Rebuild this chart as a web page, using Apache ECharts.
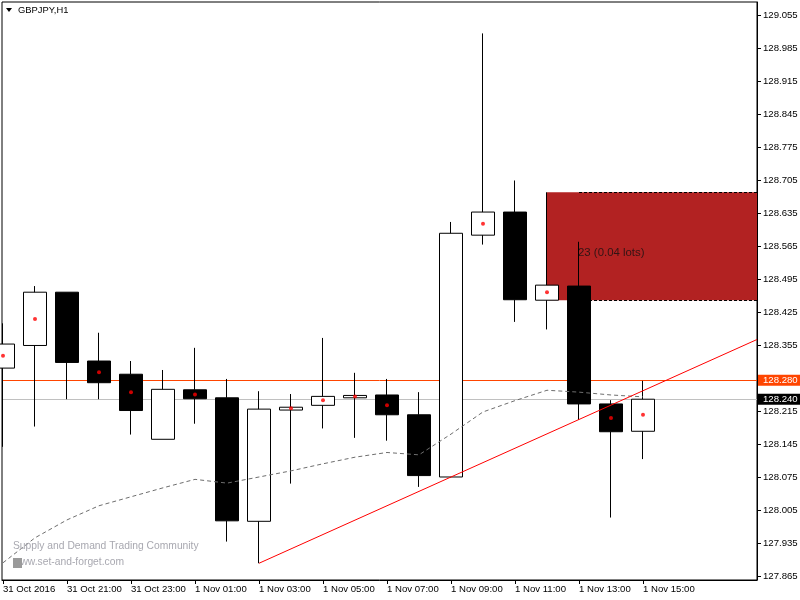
<!DOCTYPE html>
<html><head><meta charset="utf-8">
<script src="https://cdn.jsdelivr.net/npm/echarts@6/dist/echarts.min.js"></script>
<style>html,body{margin:0;padding:0;background:#fff}#chart{width:800px;height:600px}</style>
</head><body><div id="chart"></div>
<script>
// ---------- data ----------
const symbolTitle = 'GBPJPY,H1';
const barTimes = ['31 Oct 19:00','31 Oct 20:00','31 Oct 21:00','31 Oct 22:00','31 Oct 23:00','1 Nov 00:00',
  '1 Nov 01:00','1 Nov 02:00','1 Nov 03:00','1 Nov 04:00','1 Nov 05:00','1 Nov 06:00','1 Nov 07:00',
  '1 Nov 08:00','1 Nov 09:00','1 Nov 10:00','1 Nov 11:00','1 Nov 12:00','1 Nov 13:00','1 Nov 14:00','1 Nov 15:00'];
const openP  = [128.306,128.354,128.467,128.321,128.293,128.155,128.260,128.243,127.981,128.217,128.227,
  128.243,128.249,128.207,128.075,128.588,128.637,128.450,128.480,128.230,128.172];
const closeP = [128.357,128.467,128.318,128.275,128.216,128.261,128.241,127.982,128.219,128.223,128.246,
  128.248,128.207,128.078,128.592,128.637,128.451,128.482,128.230,128.171,128.240];
const lowP   = [128.139,128.182,128.240,128.240,128.165,128.155,128.188,127.938,127.892,128.061,128.178,
  128.158,128.152,128.054,128.074,128.568,128.404,128.388,128.196,127.989,128.113];
const highP  = [128.401,128.480,128.467,128.381,128.321,128.302,128.349,128.283,128.257,128.251,128.370,
  128.296,128.283,128.255,128.616,129.016,128.704,128.679,128.574,128.238,128.279];
const maValues = [127.893,127.946,127.984,128.014,128.033,128.052,128.070,128.062,128.075,128.088,128.103,
  128.117,128.127,128.122,128.166,128.213,128.237,128.259,128.255,128.249,128.245];
const dotBars   = [0,1,3,4,6,9,10,11,12,15,17,19,20];
const dotValues = [128.332,128.410,128.297,128.255,128.250,128.221,128.238,128.246,128.227,128.612,128.467,128.200,128.207];
const xTickBars   = [0,2,4,6,8,10,12,14,16,18,20];
const xTickLabels = ['31 Oct 2016','31 Oct 21:00','31 Oct 23:00','1 Nov 01:00','1 Nov 03:00','1 Nov 05:00',
  '1 Nov 07:00','1 Nov 09:00','1 Nov 11:00','1 Nov 13:00','1 Nov 15:00'];
const yTickLabels = ['129.055','128.985','128.915','128.845','128.775','128.705','128.635','128.565','128.495',
  '128.425','128.355','128.285','128.215','128.145','128.075','128.005','127.935','127.865'];
const trendBars   = [8, 18];
const trendPrices = [127.892, 128.197];
const levelPrices = [128.280, 128.240];
const levelLabels = ['128.280', '128.240'];
const zoneStartBar = 17, zoneLineStartBar = 18;
const zonePrices = [128.679, 128.450];
const noteText = '23 (0.04 lots)', noteBar = 18, notePrice = 128.551;
const watermark1 = 'Supply and Demand Trading Community';
const watermark2 = 'www.set-and-forget.com';

// ---------- axes ----------
const X_MIN = -0.03125, X_MAX = 23.5625, Y_MIN = 127.8565, Y_MAX = 129.0826;
const FONT = '"Liberation Sans", Arial, sans-serif';
const FS = 9.6;

const candleData = openP.map((o, i) => [i, o, closeP[i], lowP[i], highP[i]]);
const slope = (trendPrices[1] - trendPrices[0]) / (trendBars[1] - trendBars[0]);
const trendData = [[trendBars[0], trendPrices[0]], [X_MAX, trendPrices[0] + slope * (X_MAX - trendBars[0])]];

const chart = echarts.init(document.getElementById('chart'), null, {renderer: 'canvas'});
chart.setOption({
  animation: false,
  backgroundColor: '#fff',
  grid: {left: 2, right: 43, top: 2, bottom: 20, show: true, borderColor: '#000', borderWidth: 1,
    backgroundColor: '#fff', containLabel: false, outerBoundsMode: 'none'},
  xAxis: {
    type: 'value', min: X_MIN, max: X_MAX,
    splitLine: {show: false},
    axisLine: {show: true, onZero: false, lineStyle: {color: '#000', width: 1}},
    axisTick: {show: true, length: 4, customValues: xTickBars, lineStyle: {color: '#000'}},
    axisLabel: {show: true, customValues: xTickBars, align: 'left', margin: 4, color: '#000',
      fontFamily: FONT, fontSize: FS,
      formatter: v => xTickLabels[xTickBars.indexOf(Math.round(v))] || ''}
  },
  yAxis: {
    type: 'value', position: 'right', min: Y_MIN, max: Y_MAX, scale: true,
    splitLine: {show: false},
    axisLine: {show: true, onZero: false, lineStyle: {color: '#000', width: 1}},
    axisTick: {show: true, length: 4, customValues: yTickLabels.map(Number), lineStyle: {color: '#000'}},
    axisLabel: {show: true, customValues: yTickLabels.map(Number), margin: 6, color: '#000',
      fontFamily: FONT, fontSize: FS, formatter: v => v.toFixed(3)}
  },
  series: [
    { // zone + levels (behind candles)
      type: 'scatter', data: [], z: 1, silent: true,
      markArea: {silent: true, z: 1, itemStyle: {color: '#B22222', opacity: 1},
        data: [[{coord: [zoneStartBar, zonePrices[0]]}, {coord: [X_MAX, zonePrices[1]]}]]},
      markLine: {silent: true, z: 1, symbol: ['none', 'none'], animation: false,
        data: [
          [{coord: [zoneLineStartBar, zonePrices[0]], lineStyle: {color: '#000', width: 1, type: [3, 2]}, label: {show: false}},
           {coord: [X_MAX, zonePrices[0]]}],
          [{coord: [zoneLineStartBar, zonePrices[1]], lineStyle: {color: '#000', width: 1, type: [3, 2]}, label: {show: false}},
           {coord: [X_MAX, zonePrices[1]]}],
          {yAxis: levelPrices[0], lineStyle: {color: '#FF4500', width: 1, type: 'solid'},
            label: {show: true, position: 'end', distance: 1, formatter: levelLabels[0], color: '#fff',
              backgroundColor: '#FF4500', padding: [1, 5, 0, 5], fontFamily: FONT, fontSize: FS}},
          {yAxis: levelPrices[1], lineStyle: {color: '#C0C0C0', width: 1, type: 'solid'},
            label: {show: true, position: 'end', distance: 1, formatter: levelLabels[1], color: '#fff',
              backgroundColor: '#000', padding: [1, 5, 0, 5], fontFamily: FONT, fontSize: FS}}
        ]}
    },
    { // annotation text
      type: 'scatter', z: 2, silent: true, symbolSize: 0,
      data: [[noteBar, notePrice]],
      label: {show: true, position: 'right', distance: -1, formatter: noteText, color: '#111',
        fontFamily: FONT, fontSize: 11.4}
    },
    {
      type: 'candlestick', name: symbolTitle, z: 3, silent: true, barWidth: 23,
      dimensions: ['bar', 'open', 'close', 'lowest', 'highest'],
      encode: {x: 0, y: [1, 2, 3, 4]},
      data: candleData,
      itemStyle: {color: '#fff', color0: '#000', borderColor: '#000', borderColor0: '#000', borderWidth: 1}
    },
    { // moving average
      type: 'line', z: 4, silent: true, showSymbol: false, symbol: 'none',
      data: maValues.map((v, i) => [i, v]),
      lineStyle: {color: '#6E6E6E', width: 1, type: [4, 3]}
    },
    { // trend line
      type: 'line', z: 4, silent: true, showSymbol: false, symbol: 'none',
      data: trendData,
      lineStyle: {color: '#FF0000', width: 1}
    },
    { // red dots
      type: 'scatter', z: 5, silent: true, symbol: 'circle', symbolSize: 4,
      data: dotBars.map((b, k) => [b, dotValues[k]]),
      itemStyle: {color: '#FF0000'}
    }
  ],
  graphic: [
    {type: 'polygon', shape: {points: [[6, 8], [12, 8], [9, 12]]}, style: {fill: '#000'}, z: 10},
    {type: 'text', left: 18, top: 6, style: {text: symbolTitle, fill: '#000', font: '9.4px ' + FONT}, z: 10},
    {type: 'text', left: 13, top: 541, style: {text: watermark1, fill: '#A8A8B0', font: '10.3px ' + FONT}, z: 10},
    {type: 'text', left: 13, top: 557, style: {text: watermark2, fill: '#A8A8B0', font: '10.3px ' + FONT}, z: 10},
    {type: 'rect', shape: {x: 13, y: 558, width: 9, height: 10}, style: {fill: '#9A9A9A'}, z: 11}
  ]
});
</script></body></html>
